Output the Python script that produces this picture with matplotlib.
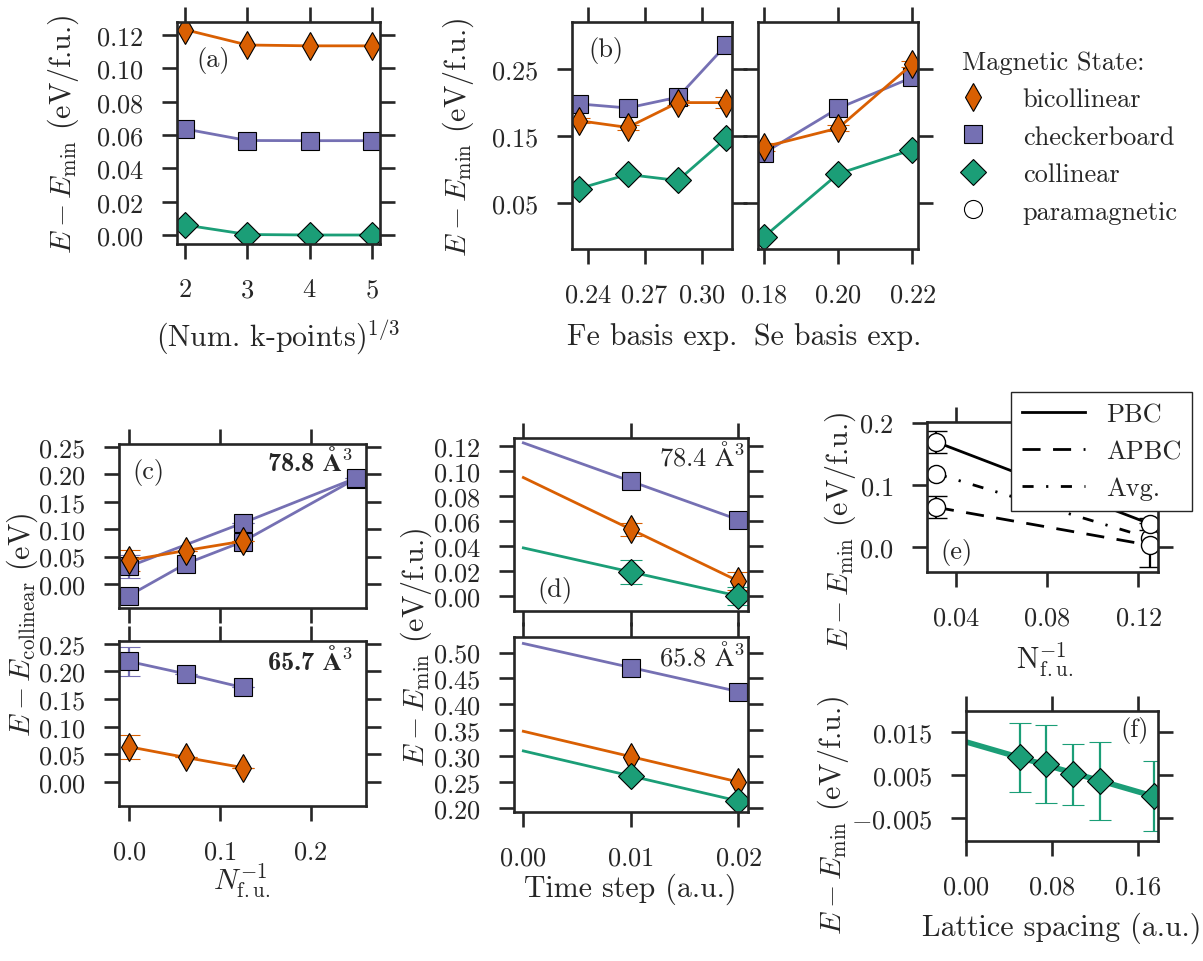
import numpy as np
import matplotlib
matplotlib.use("Agg")
import matplotlib.pyplot as plt
from matplotlib.lines import Line2D

# ---- data ----
kpts = [2, 3, 4, 5]
a_bicol = [0.1232, 0.1140, 0.1135, 0.1135]
a_checker = [0.0636, 0.0567, 0.0566, 0.0566]
a_col = [0.0060, 0.0003, 0.0, 0.0]

fe_exp = [0.2355, 0.261, 0.2875, 0.313]
fe_bicol = [0.173, 0.163, 0.200, 0.200]
fe_bicol_err = [0.004, 0.004, 0.004, 0.008]
fe_checker = [0.198, 0.192, 0.208, 0.286]
fe_col = [0.072, 0.093, 0.084, 0.147]

se_exp = [0.18, 0.20, 0.22]
se_bicol = [0.134, 0.162, 0.2575]
se_bicol_err = [0.006, 0.004, 0.004]
se_checker = [0.125, 0.1915, 0.2376]
se_col = [0.0, 0.094, 0.130]

# (c) 78.8 A^3
c1_x_checker_a = [0.0, 0.125, 0.25]
c1_checker_a = [0.032, 0.111, 0.193]
c1_checker_a_err = [0.021, 0.0, 0.0]
c1_x_checker_b = [0.0, 0.0625, 0.125, 0.25]
c1_checker_b = [-0.021, 0.037, 0.077, 0.192]
c1_x_bicol = [0.0, 0.0625, 0.125]
c1_bicol = [0.043, 0.061, 0.078]
c1_bicol_err = [0.019, 0.0, 0.0]
# (c) 65.7 A^3
c2_x = [0.0, 0.0625, 0.125]
c2_checker = [0.218, 0.1955, 0.171]
c2_checker_err = [0.026, 0.0, 0.0]
c2_bicol = [0.0636, 0.0442, 0.026]
c2_bicol_err = [0.0218, 0.0, 0.0]

# (d) time step
tstep = [0.01, 0.02]
d1_checker = [0.092, 0.0612]
d1_bicol = [0.0535, 0.012]
d1_bicol_err = [0.005, 0.007]
d1_col = [0.0193, 0.0]
d1_col_err = [0.0094, 0.007]
d2_checker = [0.471, 0.4245]
d2_bicol = [0.2987, 0.2497]
d2_col = [0.2613, 0.2129]

# (e) paramagnetic, twist conditions
e_nfu = [1 / 32, 1 / 8]
e_pbc = [0.169, 0.0375]
e_pbc_err = [0.018, 0.010]
e_apbc = [0.064, 0.003]
e_apbc_err = [0.018, 0.035]
e_avg = [0.118, 0.0145]

# (f) lattice spacing
f_a = [0.05, 0.075, 0.10, 0.125, 0.175]
f_col = [0.0091, 0.0075, 0.0052, 0.0037, 0.0002]
f_col_err = [0.008, 0.009, 0.007, 0.009, 0.008]

# ---- style ----
plt.rcParams.update({
    "font.family": "serif",
    "font.serif": ["cmr10"],
    "mathtext.fontset": "cm",
    "axes.formatter.use_mathtext": True,
    "axes.linewidth": 1.9,
    "axes.edgecolor": ".15",
    "text.color": ".15",
    "lines.linewidth": 2.0,
})

TICK_FS = 19
LAB_FS = 21.5
TXT_FS = 19

ORANGE = "#d95f02"
PURPLE = "#7570b3"
GREEN = "#1b9e77"
bicol_st = dict(color=ORANGE, marker="d", ms=14, mec="k", mew=0.8)
checker_st = dict(color=PURPLE, marker="s", ms=13, mec="k", mew=0.8)
col_st = dict(color=GREEN, marker="D", ms=13, mec="k", mew=0.8)
eb = dict(capsize=8, capthick=1.6, elinewidth=1.6)

W, H = 1203, 962
fig = plt.figure(figsize=(W / 100, H / 100), dpi=100)


def box(x0, y0, x1, y1):
    return [x0 / W, 1 - y1 / H, (x1 - x0) / W, (y1 - y0) / H]


def style(ax):
    ax.tick_params(which="both", direction="out", length=11, width=1.9,
                   top=True, right=True, labelsize=TICK_FS, pad=13,
                   color=".15", labelcolor=".15")


def ftext(x, y, s, rot=0, **kw):
    fig.text(x / W, 1 - y / H, s, rotation=rot, ha="center", va="center",
             fontsize=LAB_FS, **kw)


def tag(ax, x, y, s, ha="center", **kw):
    ax.text(x, y, s, transform=ax.transAxes, ha=ha, va="center",
            fontsize=TXT_FS, **kw)


def fit_line(ax, x, y, xs, **kw):
    p = np.polyfit(x, y, 1)
    ax.plot(xs, np.polyval(p, xs), **kw)


ylab_fu = r"$E - E_{\mathrm{min}}$ (eV/f.u.)"

# (a)
ax = fig.add_axes(box(177, 23, 380, 245))
ax.plot(kpts, a_bicol, **bicol_st)
ax.plot(kpts, a_checker, **checker_st)
ax.plot(kpts, a_col, **col_st)
ax.set_xlim(1.87, 5.13)
ax.set_ylim(-0.0054, 0.1278)
ax.set_xticks(kpts)
ax.set_yticks(np.arange(0, 0.121, 0.02))
tag(ax, 0.18, 0.83, "(a)")
style(ax)
ftext(63, 134, ylab_fu, rot=90)
ftext(278, 337, r"(Num. k-points)$^{1/3}$")

# (b) Fe and Se exponents
axb1 = fig.add_axes(box(572, 23, 732, 250))
axb2 = fig.add_axes(box(758, 23, 918, 250))
axb1.errorbar(fe_exp, fe_bicol, yerr=fe_bicol_err, **eb, **bicol_st)
axb1.plot(fe_exp, fe_col, **col_st)
axb1.plot(fe_exp, fe_checker, **checker_st)
axb2.errorbar(se_exp, se_bicol, yerr=se_bicol_err, **eb, **bicol_st)
axb2.plot(se_exp, se_col, **col_st)
axb2.plot(se_exp, se_checker, **checker_st)
axb1.set_xlim(0.2317, 0.316)
axb2.set_xlim(0.1784, 0.2215)
for a in (axb1, axb2):
    a.set_ylim(-0.018, 0.32)
    a.set_yticks([0.05, 0.15, 0.25])
    style(a)
axb1.set_xticks([0.24, 0.27, 0.30])
axb2.set_xticks([0.18, 0.20, 0.22])
axb2.tick_params(labelleft=False)
tag(axb1, 0.21, 0.88, "(b)")
ftext(458, 137, ylab_fu, rot=90)
ftext(652, 337, "Fe basis exp.")
ftext(838, 337, "Se basis exp.")

handles = [Line2D([], [], ls="none", **bicol_st),
           Line2D([], [], ls="none", **checker_st),
           Line2D([], [], ls="none", **col_st),
           Line2D([], [], ls="none", marker="o", ms=13, mfc="white", mec="k", mew=0.8)]
fig.legend(handles, ["bicollinear", "checkerboard", "collinear", "paramagnetic"],
           loc="upper left", bbox_to_anchor=(962 / W, 1 - 51 / H), frameon=False,
           title="Magnetic State:", title_fontsize=TXT_FS, fontsize=TXT_FS,
           handlelength=0.8, handletextpad=1.5, labelspacing=0.52,
           alignment="left", borderaxespad=0, borderpad=0)

# (c) finite-size, two volumes
axc1 = fig.add_axes(box(119, 445, 366, 609))
axc2 = fig.add_axes(box(119, 642, 366, 807))
axc1.errorbar(c1_x_checker_a, c1_checker_a, yerr=c1_checker_a_err, **eb, **checker_st)
axc1.plot(c1_x_checker_b, c1_checker_b, **checker_st)
axc1.errorbar(c1_x_bicol, c1_bicol, yerr=c1_bicol_err, **eb, **bicol_st)
axc2.errorbar(c2_x, c2_checker, yerr=c2_checker_err, **eb, **checker_st)
axc2.errorbar(c2_x, c2_bicol, yerr=c2_bicol_err, **eb, **bicol_st)
for a in (axc1, axc2):
    a.set_xlim(-0.011, 0.261)
    a.set_ylim(-0.0436, 0.255)
    a.set_xticks([0.0, 0.1, 0.2])
    a.set_yticks(np.arange(0, 0.251, 0.05))
    style(a)
axc1.tick_params(labelbottom=False)
tag(axc1, 0.12, 0.835, "(c)")
vol_bold = r"$\mathbf{\AA}^{\mathbf{3}}$"
tag(axc1, 0.95, 0.90, "78.8 " + vol_bold, ha="right", family="cmb10")
tag(axc2, 0.95, 0.89, "65.7 " + vol_bold, ha="right", family="cmb10")
ftext(22, 625, r"$E - E_{\mathrm{collinear}}$ (eV)", rot=90)
ftext(242, 881, r"$N_{\mathrm{f.u.}}^{-1}$")

# (d) time step extrapolation
axd1 = fig.add_axes(box(514, 439, 748, 612))
axd2 = fig.add_axes(box(514, 638, 748, 813))
xs = np.array([0.0, 0.02])
for a, ys in ((axd1, (d1_checker, d1_bicol, d1_col)), (axd2, (d2_checker, d2_bicol, d2_col))):
    for y, c in zip(ys, (PURPLE, ORANGE, GREEN)):
        fit_line(a, tstep, y, xs, color=c)
axd1.plot(tstep, d1_checker, ls="none", **checker_st)
axd1.errorbar(tstep, d1_bicol, yerr=d1_bicol_err, ls="none", **eb, **bicol_st)
axd1.errorbar(tstep, d1_col, yerr=d1_col_err, ls="none", **eb, **col_st)
axd2.plot(tstep, d2_checker, ls="none", **checker_st)
axd2.plot(tstep, d2_bicol, ls="none", **bicol_st)
axd2.plot(tstep, d2_col, ls="none", **col_st)
for a in (axd1, axd2):
    a.set_xlim(-0.00087, 0.0209)
    a.set_xticks([0.0, 0.01, 0.02])
    style(a)
axd1.set_ylim(-0.012, 0.1267)
axd1.set_yticks(np.arange(0, 0.121, 0.02))
axd2.set_ylim(0.1916, 0.530)
axd2.set_yticks(np.arange(0.20, 0.501, 0.05))
axd1.tick_params(labelbottom=False)
tag(axd1, 0.175, 0.127, "(d)")
tag(axd1, 0.987, 0.90, r"78.4 $\mathrm{\AA}^3$", ha="right")
tag(axd2, 0.987, 0.897, r"65.8 $\mathrm{\AA}^3$", ha="right")
ftext(416, 647, ylab_fu, rot=90)
ftext(630, 889, "Time step (a.u.)")

# (e) paramagnetic twist boundary conditions
axe = fig.add_axes(box(927, 423, 1158, 573))
circ = dict(marker="o", ms=13, mfc="white", mec="k", mew=1.0, color="k")
dash_apbc = (6.5, 4.5)
dash_avg = (4, 4.5, 0.8, 4.5)
axe.errorbar(e_nfu, e_pbc, yerr=e_pbc_err, ls="-", **eb, **circ)
axe.errorbar(e_nfu, e_apbc, yerr=e_apbc_err, dashes=dash_apbc, **eb, **circ)
axe.plot(e_nfu, e_avg, dashes=dash_avg, **circ)
axe.set_xlim(0.0273, 0.1286)
axe.set_ylim(-0.040, 0.201)
axe.set_xticks([0.04, 0.08, 0.12])
axe.set_yticks([0.0, 0.1, 0.2])
style(axe)
tag(axe, 0.126, 0.14, "(e)")
ftext(840, 531, ylab_fu, rot=90)
ftext(1045, 660, r"$\mathrm{N}_{\mathrm{f.u.}}^{-1}$")
leg_lines = [Line2D([], [], color="k", ls="-"),
             Line2D([], [], color="k", dashes=dash_apbc),
             Line2D([], [], color="k", dashes=dash_avg)]
lg = fig.legend(leg_lines, ["PBC", "APBC", "Avg."], loc="upper right",
                bbox_to_anchor=(1192 / W, 1 - 393 / H), fancybox=False,
                edgecolor=".15", framealpha=1, fontsize=TXT_FS, handlelength=2.4,
                handletextpad=0.8, labelspacing=0.5, borderaxespad=0)
lg.get_frame().set_linewidth(1.0)

# (f) lattice spacing extrapolation
axf = fig.add_axes(box(966, 712, 1158, 842))
fit_line(axf, f_a, f_col, np.array([0.0, 0.18]), color=GREEN, lw=4.0)
axf.errorbar(f_a, f_col, yerr=f_col_err, ls="none", **eb, **col_st)
axf.set_xlim(0.0, 0.179)
axf.set_ylim(-0.0102, 0.0198)
axf.set_xticks([0.0, 0.08, 0.16])
axf.set_yticks([-0.005, 0.005, 0.015])
style(axf)
tag(axf, 0.88, 0.86, "(f)")
ftext(833, 815, ylab_fu, rot=90)
ftext(1062, 928, "Lattice spacing (a.u.)")

fig.savefig("out.png", dpi=100)
